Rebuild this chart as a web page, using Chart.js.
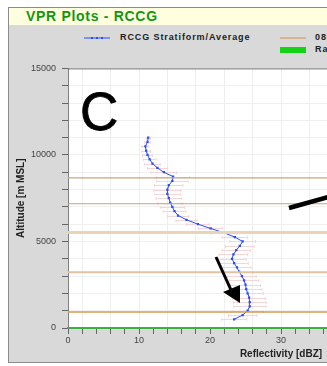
<!DOCTYPE html>
<html lang="en">
<head>
<meta charset="utf-8" />
<title>VPR Plots - RCCG</title>
<script src="https://cdn.jsdelivr.net/npm/chart.js@4"></script>
<style>
	body { margin:0; background:#fff; width:327px; height:366px; overflow:hidden; position:relative; font-family:"Liberation Sans", Arial, sans-serif; }
	.frame { position:absolute; left:8px; top:7px; width:640px; height:354px; border:1px solid #8c8c8c; background:#d9d9d9; }
	.titlebar { position:absolute; left:0; top:0; right:0; height:17px; background:#ffffe0; }
	.titlebar span { position:absolute; left:17px; top:0px; font-weight:bold; font-size:14px; color:#129612; letter-spacing:0.7px; white-space:nowrap; }
	.lg { position:absolute; font-size:9px; font-weight:bold; color:#222; letter-spacing:0.9px; white-space:nowrap; }
	#plot { position:absolute; left:9px; top:57px; }
	#marks { position:absolute; left:0; top:0; }
</style>
</head>
<body>
	<div class="frame">
		<div class="titlebar"><span>VPR Plots - RCCG</span></div>
	</div>

	<!-- legend -->
	<svg style="position:absolute;left:0;top:0" width="327" height="60">
		<line x1="84" y1="38" x2="110" y2="38" stroke="#2a4cff" stroke-width="1" />
		<rect x="91" y="37" width="2" height="2" fill="#2a4cff" />
		<rect x="96" y="37" width="2" height="2" fill="#2a4cff" />
		<rect x="101" y="37" width="2" height="2" fill="#2a4cff" />
		<line x1="280" y1="38" x2="306" y2="38" stroke="#d0a060" stroke-width="1.2" />
		<rect x="280" y="47" width="26" height="6" fill="#14d214" />
	</svg>
	<div class="lg" style="left:120px;top:32px">RCCG Stratiform/Average</div>
	<div class="lg" style="left:315px;top:32px">0800 UTC</div>
	<div class="lg" style="left:315px;top:44px">Rain</div>

	<canvas id="plot" width="520" height="304"></canvas>

	<!-- hand drawn annotations on the figure -->
	<svg id="marks" width="327" height="366">
		<text x="80" y="130" font-family="Liberation Sans, Arial" font-size="53" fill="#000" stroke="#000" stroke-width="0.8">C</text>
		<line x1="289" y1="208" x2="332" y2="196" stroke="#000" stroke-width="4.5" />
		<line x1="216" y1="257" x2="231" y2="290" stroke="#000" stroke-width="3" />
		<polygon points="223,292 240,285 240,303" fill="#000" />
	</svg>

	<script>
		// profile (altitude in m MSL, reflectivity in dBZ)
		var altitudes = [500, 750, 1000, 1250, 1500, 1750, 2000, 2250, 2500, 2750, 3000, 3250, 3500, 3750, 4000, 4250, 4500, 4750, 5000, 5250, 5500, 5750, 6000, 6250, 6500, 6750, 7000, 7250, 7500, 7750, 8000, 8250, 8500, 8750, 9000, 9250, 9500, 9750, 10000, 10250, 10500, 10750, 11000];
		var reflectivity = [23.4, 24.6, 25.3, 25.6, 25.6, 25.5, 25.3, 25.1, 25.0, 24.8, 24.5, 24.1, 23.8, 23.4, 23.1, 23.3, 23.7, 24.2, 24.6, 23.5, 22.0, 20.1, 18.3, 16.7, 15.5, 15.0, 14.7, 14.4, 14.2, 14.0, 14.0, 14.2, 14.7, 14.8, 13.5, 12.6, 11.9, 11.5, 11.2, 11.0, 10.9, 11.2, 11.3];
		var spread = [1.8, 2.0, 2.2, 2.3, 2.3, 2.3, 2.2, 2.2, 2.1, 2.1, 2.0, 2.0, 2.0, 2.0, 2.0, 2.0, 2.0, 2.0, 1.8, 1.8, 1.8, 1.7, 1.6, 1.5, 1.5, 1.6, 1.7, 1.7, 1.8, 1.8, 1.9, 2.0, 2.2, 2.3, 1.8, 1.4, 1.1, 0.9, 0.7, 0.6, 0.5, 0.4, 0.3];

		// horizontal reference levels (m)
		var levelHeights = [920, 3220, 5520, 7180, 8680];
		var levelColors = ["#d49a4c", "#dfc3a2", "#e9d4b8", "#c4a27e", "#c8a47c"];
		var levelWidths = [1.5, 2, 3, 1.2, 1.2];

		var xLabels = [0, 10, 20, 30, 40, 50, 60];
		var yLabels = [0, 5000, 10000, 15000];

		var profile = altitudes.map(function (h, i) { return { x: reflectivity[i], y: h }; });

		var datasets = levelHeights.map(function (h, i) {
			return {
				data: [{ x: 0, y: h }, { x: 60, y: h }],
				showLine: true,
				borderColor: levelColors[i],
				borderWidth: levelWidths[i],
				pointRadius: 0,
			};
		});
		datasets.push({
			data: profile,
			showLine: true,
			borderColor: "#2a4cff",
			backgroundColor: "#2a4cff",
			borderWidth: 1,
			pointStyle: "rect",
			pointRadius: 1.6,
			pointBorderWidth: 0,
		});

		var plotBg = {
			id: "plotBg",
			beforeDraw: function (chart) {
				var a = chart.chartArea;
				chart.ctx.save();
				chart.ctx.fillStyle = "#fff";
				chart.ctx.fillRect(a.left, a.top, a.right - a.left, a.bottom - a.top);
				chart.ctx.restore();
			},
			afterDraw: function (chart) {
				var a = chart.chartArea, ctx = chart.ctx;
				ctx.save();
				ctx.strokeStyle = "#707070";
				ctx.lineWidth = 1;
				ctx.beginPath();
				ctx.moveTo(a.left, a.top + 0.5);
				ctx.lineTo(a.right, a.top + 0.5);
				ctx.stroke();
				ctx.restore();
			},
		};

		var errorBars = {
			id: "errorBars",
			beforeDatasetsDraw: function (chart) {
				var ctx = chart.ctx, x = chart.scales.x, y = chart.scales.y;
				ctx.save();
				ctx.strokeStyle = "#f5d6d6";
				ctx.lineWidth = 1;
				altitudes.forEach(function (h, i) {
					var py = Math.round(y.getPixelForValue(h)) + 0.5;
					var x0 = x.getPixelForValue(reflectivity[i] - spread[i]);
					var x1 = x.getPixelForValue(reflectivity[i] + spread[i]);
					ctx.beginPath();
					ctx.moveTo(x0, py); ctx.lineTo(x1, py);
					ctx.moveTo(x0, py - 1.5); ctx.lineTo(x0, py + 1.5);
					ctx.moveTo(x1, py - 1.5); ctx.lineTo(x1, py + 1.5);
					ctx.stroke();
				});
				ctx.restore();
			},
		};

		var tickFont = { family: "Liberation Sans", size: 9 };
		var titleFont = { family: "Liberation Sans", size: 10, weight: "bold" };

		new Chart(document.getElementById("plot"), {
			type: "scatter",
			data: { datasets: datasets },
			plugins: [plotBg, errorBars],
			options: {
				responsive: false,
				animation: false,
				layout: { padding: { left: 0, top: 10, right: 35, bottom: 0 } },
				plugins: { legend: { display: false }, tooltip: { enabled: false } },
				scales: {
					x: {
						type: "linear",
						min: 0,
						max: 60,
						afterBuildTicks: function (s) {
							var t = [];
							for (var v = 0; v <= 60; v += 2) t.push({ value: v });
							s.ticks = t;
						},
						afterFit: function (s) { s.height = 33; },
						ticks: {
							font: tickFont,
							color: "#444",
							padding: 1,
							maxRotation: 0,
							autoSkip: false,
							callback: function (v) { return xLabels.indexOf(v) >= 0 ? String(v) : ""; },
						},
						grid: {
							color: function (c) { return c.tick && c.tick.value % 4 === 2 ? "#eeeeee" : "rgba(0,0,0,0)"; },
							tickColor: "#666",
							tickLength: 6,
						},
						border: { color: "#3cb043", width: 2 },
						title: { display: true, text: "Reflectivity [dBZ]", font: titleFont, color: "#222", padding: { top: 0, bottom: 1 } },
					},
					y: {
						type: "linear",
						min: 0,
						max: 15000,
						afterBuildTicks: function (s) {
							var t = [];
							for (var v = 0; v <= 15000; v += 1000) t.push({ value: v });
							s.ticks = t;
						},
						afterFit: function (s) { s.width = 59; },
						ticks: {
							font: tickFont,
							color: "#444",
							padding: 6,
							autoSkip: false,
							callback: function (v) { return yLabels.indexOf(v) >= 0 ? String(v) : ""; },
						},
						grid: { color: "#f0f0f0", tickColor: "#666", tickLength: 6 },
						border: { color: "#808080", width: 1 },
						title: { display: true, text: "Altitude [m MSL]", font: titleFont, color: "#222", padding: { top: 6, bottom: 0 } },
					},
				},
			},
		});
	</script>
</body>
</html>
